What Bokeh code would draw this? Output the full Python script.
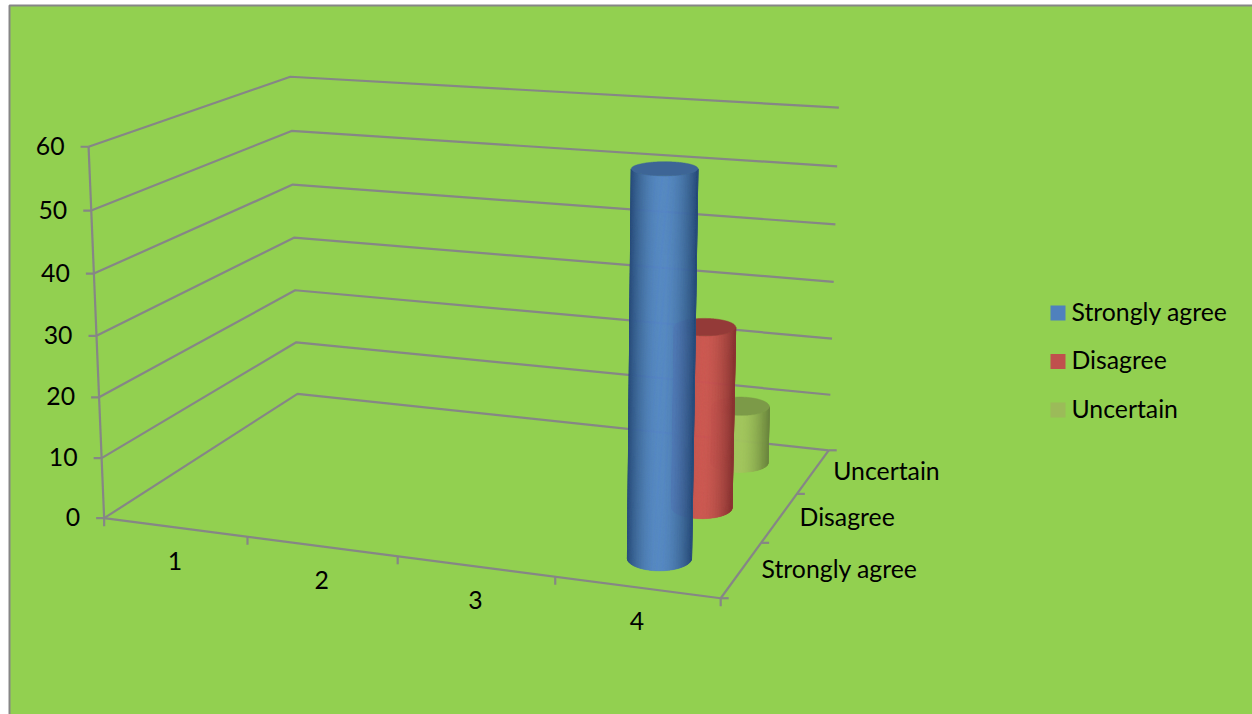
import numpy as np
from bokeh.core.properties import value
from bokeh.embed import file_html
from bokeh.models import Range1d
from bokeh.plotting import figure
from bokeh.resources import INLINE

# Chart data
categories = ["1", "2", "3", "4"]
series_names = ["Strongly agree", "Disagree", "Uncertain"]
strongly_agree = [0, 0, 0, 60]
disagree = [0, 0, 0, 30]
uncertain = [0, 0, 0, 10]
value_ticks = [0, 10, 20, 30, 40, 50, 60]

# Series colours: (cap, edge shade, body highlight)
series_colors = [
    ("#3D6596", "#2B4F7C", "#5587C8"),
    ("#943A38", "#8A3533", "#CE5553"),
    ("#7C9A48", "#6C873E", "#A3C55E"),
]
legend_colors = ["#4F81BD", "#C0504D", "#9BBB59"]

AXIS = "#868686"
PANEL = "#92D050"
FONT = value("Lato")
SIZE = "24.8px"
LW = 2.2

# Camera fit: world (category, series depth, value) -> page pixel
world_pts = [(0, 0, 0), (4, 0, 0), (4, 3, 0), (0, 3, 0), (0, 0, 60), (0, 3, 60), (4, 3, 60),
             (0, 0, 30), (0, 3, 30), (4, 3, 30)]
page_pts = [(104, 518), (718, 598), (830, 449), (297, 393), (88, 146), (290, 76), (837, 107),
            (96, 335), (293, 238), (833, 282)]
# Horizontal position of the near right corner at the top of the scale
near_corner = ((4, 0, 60), 730)


def fit_camera(world, page, lean):
    rows, rhs = [], []
    for (X, Y, Z), (u, v) in zip(world, page):
        rows.append([X, Y, Z, 1, 0, 0, 0, 0, -u * X, -u * Y, -u * Z])
        rows.append([0, 0, 0, 0, X, Y, Z, 1, -v * X, -v * Y, -v * Z])
        rhs += [u, v]
    (X, Y, Z), u = lean
    rows.append([X, Y, Z, 1, 0, 0, 0, 0, -u * X, -u * Y, -u * Z])
    rhs.append(u)
    sol = np.linalg.lstsq(np.array(rows, float), np.array(rhs, float), rcond=None)[0]
    return np.append(sol, 1.0).reshape(3, 4)


CAM = fit_camera(world_pts, page_pts, near_corner)


def project(X, Y, Z):
    X, Y, Z = np.broadcast_arrays(np.asarray(X, float), np.asarray(Y, float), np.asarray(Z, float))
    pts = CAM @ np.stack([X, Y, Z, np.ones_like(X)])
    return pts[0] / pts[2], pts[1] / pts[2]


def hex_rgb(c):
    return np.array([int(c[i:i + 2], 16) for i in (1, 3, 5)], float)


def mix(a, b, t):
    m = hex_rgb(a) * (1 - t) + hex_rgb(b) * t
    return "#%02x%02x%02x" % tuple(int(round(x)) for x in m)


p = figure(width=1252, height=714, output_backend="svg", toolbar_location=None,
           x_range=Range1d(0, 1252), y_range=Range1d(714, 0),
           min_border=0, outline_line_color=None, background_fill_color="white",
           border_fill_color="white")
p.axis.visible = False
p.grid.visible = False

# Panel with its left and top border
p.quad(left=[9], right=[1260], top=[5], bottom=[720], fill_color=PANEL,
       line_color=AXIS, line_width=2)


def seg(x0, y0, x1, y1):
    p.line([float(x0), float(x1)], [float(y0), float(y1)], line_color=AXIS, line_width=LW)


nx, ny = len(categories), len(series_names)

# Gridlines along the left and back walls
for v in value_ticks:
    xs, ys = project([0, 0, nx], [0, ny, ny], [v, v, v])
    p.line(xs.tolist(), ys.tolist(), line_color=AXIS, line_width=LW)
    seg(xs[0] - 8, ys[0], xs[0], ys[0])
    p.text([float(xs[0]) - 24], [float(ys[0]) - 1], text=[str(v)], text_font=FONT, text_font_size=SIZE,
           text_align="right", text_baseline="middle", text_color="black")

# Value axis, floor edges
xs, ys = project([0, 0], [0, 0], [0, 60])
p.line(xs.tolist(), ys.tolist(), line_color=AXIS, line_width=LW)
xs, ys = project([0, nx, nx], [0, 0, ny], [0, 0, 0])
p.line(xs.tolist(), ys.tolist(), line_color=AXIS, line_width=LW)

# Category ticks and labels
for i in range(nx + 1):
    x0, y0 = project(i, 0, 0)
    seg(x0, y0, x0, y0 + 8)
for i, name in enumerate(categories):
    x0, y0 = project(i + 0.5, 0, 0)
    p.text([float(x0)], [float(y0) + 34], text=[name], text_font=FONT, text_font_size=SIZE,
           text_align="center", text_baseline="middle", text_color="black")

# Depth ticks and labels
for j in range(ny + 1):
    x0, y0 = project(nx, j, 0)
    seg(x0, y0, x0 + 8, y0)
for j, name in enumerate(series_names):
    x0, y0 = project(nx, j + 0.5, 0)
    p.text([float(x0) + 20], [float(y0) - 1], text=[name], text_font=FONT, text_font_size=SIZE,
           text_align="left", text_baseline="middle", text_color="black")


def cylinder(cat_index, series_index, val, colors):
    cap, edge, light = colors
    theta = np.linspace(0, 2 * np.pi, 241)[:-1]
    cx = cat_index + 0.49 + 0.19 * np.cos(theta)
    cy = series_index + 0.52 + 0.22 * np.sin(theta)
    bx, by = project(cx, cy, 0)
    tx, ty = project(cx, cy, val)
    lo, hi = bx.min(), bx.max()
    # Wall arc facing the viewer runs from the rightmost to the leftmost rim point via the nearest one
    n = len(theta)
    right, left, near = int(bx.argmax()), int(bx.argmin()), int(by.argmax())
    arc = [(left + k) % n for k in range((right - left) % n + 1)]
    if near not in arc:
        arc = [(right + k) % n for k in range((left - right) % n + 1)]
    arc.sort(key=lambda k: bx[k])
    xs_, ys_, cols = [], [], []
    for a, b in zip(arc[:-1], arc[1:]):
        f = ((bx[a] + bx[b]) / 2 - lo) / (hi - lo)
        cols.append(mix(edge, light, np.sin(np.pi * f ** 0.95)))
        xs_.append([bx[a], bx[b], tx[b], tx[a]])
        ys_.append([by[a], by[b], ty[b], ty[a]])
    p.patches(xs_, ys_, fill_color=cols, line_color=cols, line_width=0.5)
    p.patch(tx.tolist(), ty.tolist(), fill_color=cap, line_color=cap, line_width=0.5)


# Cylinders, back row first so nearer ones overlap
all_series = [strongly_agree, disagree, uncertain]
for j in reversed(range(ny)):
    for i in reversed(range(nx)):
        if all_series[j][i] > 0:
            cylinder(i, j, all_series[j][i], series_colors[j])

# Legend
for j, name in enumerate(series_names):
    y = 312.5 + 48.5 * j
    p.quad(left=[1050], right=[1065], top=[y - 7.5], bottom=[y + 7.5],
           fill_color=legend_colors[j], line_color=None)
    p.text([1071], [y - 2], text=[name], text_font=FONT, text_font_size=SIZE,
           text_align="left", text_baseline="middle", text_color="black")

open("out.html", "w").write(file_html(p, INLINE))
